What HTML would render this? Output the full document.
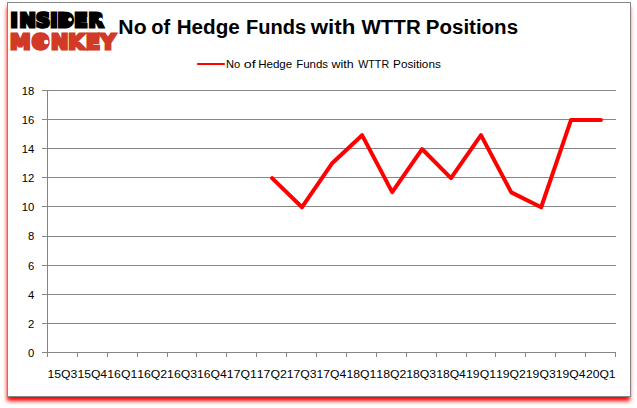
<!DOCTYPE html>
<html lang="en">
<head>
<meta charset="utf-8">
<title>Insider Monkey - No of Hedge Funds with WTTR Positions</title>
<style>
html,body{margin:0;padding:0;background:#fff;}
body{width:637px;height:408px;position:relative;overflow:hidden;font-family:"Liberation Sans",sans-serif;}
#frame{position:absolute;left:7px;top:2px;width:622px;height:393px;border:1px solid #868686;background:#fff;box-shadow:-0.5px 4.5px 4px -0.5px #ff0000;}
svg{position:absolute;left:0;top:0;}
text{font-family:"Liberation Sans",sans-serif;font-kerning:none;white-space:pre;}
.ax{font-size:11.3px;fill:#000;}
.ttl{font-size:19.6px;font-weight:bold;fill:#000;}
.lg{font-family:"DejaVu Sans","Liberation Sans",sans-serif;font-weight:bold;stroke-width:2.8;stroke-linejoin:miter;text-rendering:geometricPrecision;}
</style>
</head>
<body>
<div id="frame"></div>
<svg width="637" height="408" viewBox="0 0 637 408">
<line x1="42.00" y1="352.50" x2="616.00" y2="352.50" stroke="#868686" stroke-width="1"/>
<line x1="42.00" y1="323.50" x2="616.00" y2="323.50" stroke="#868686" stroke-width="1"/>
<line x1="42.00" y1="294.50" x2="616.00" y2="294.50" stroke="#868686" stroke-width="1"/>
<line x1="42.00" y1="265.50" x2="616.00" y2="265.50" stroke="#868686" stroke-width="1"/>
<line x1="42.00" y1="236.50" x2="616.00" y2="236.50" stroke="#868686" stroke-width="1"/>
<line x1="42.00" y1="206.50" x2="616.00" y2="206.50" stroke="#868686" stroke-width="1"/>
<line x1="42.00" y1="177.50" x2="616.00" y2="177.50" stroke="#868686" stroke-width="1"/>
<line x1="42.00" y1="148.50" x2="616.00" y2="148.50" stroke="#868686" stroke-width="1"/>
<line x1="42.00" y1="119.50" x2="616.00" y2="119.50" stroke="#868686" stroke-width="1"/>
<line x1="42.00" y1="90.50" x2="616.00" y2="90.50" stroke="#868686" stroke-width="1"/>
<line x1="47.50" y1="90.50" x2="47.50" y2="352.50" stroke="#868686" stroke-width="1"/>
<line x1="47.50" y1="352.50" x2="47.50" y2="357.00" stroke="#868686" stroke-width="1"/>
<line x1="77.50" y1="352.50" x2="77.50" y2="357.00" stroke="#868686" stroke-width="1"/>
<line x1="107.50" y1="352.50" x2="107.50" y2="357.00" stroke="#868686" stroke-width="1"/>
<line x1="137.50" y1="352.50" x2="137.50" y2="357.00" stroke="#868686" stroke-width="1"/>
<line x1="167.50" y1="352.50" x2="167.50" y2="357.00" stroke="#868686" stroke-width="1"/>
<line x1="196.50" y1="352.50" x2="196.50" y2="357.00" stroke="#868686" stroke-width="1"/>
<line x1="226.50" y1="352.50" x2="226.50" y2="357.00" stroke="#868686" stroke-width="1"/>
<line x1="256.50" y1="352.50" x2="256.50" y2="357.00" stroke="#868686" stroke-width="1"/>
<line x1="286.50" y1="352.50" x2="286.50" y2="357.00" stroke="#868686" stroke-width="1"/>
<line x1="316.50" y1="352.50" x2="316.50" y2="357.00" stroke="#868686" stroke-width="1"/>
<line x1="346.50" y1="352.50" x2="346.50" y2="357.00" stroke="#868686" stroke-width="1"/>
<line x1="376.50" y1="352.50" x2="376.50" y2="357.00" stroke="#868686" stroke-width="1"/>
<line x1="406.50" y1="352.50" x2="406.50" y2="357.00" stroke="#868686" stroke-width="1"/>
<line x1="436.50" y1="352.50" x2="436.50" y2="357.00" stroke="#868686" stroke-width="1"/>
<line x1="466.50" y1="352.50" x2="466.50" y2="357.00" stroke="#868686" stroke-width="1"/>
<line x1="495.50" y1="352.50" x2="495.50" y2="357.00" stroke="#868686" stroke-width="1"/>
<line x1="525.50" y1="352.50" x2="525.50" y2="357.00" stroke="#868686" stroke-width="1"/>
<line x1="555.50" y1="352.50" x2="555.50" y2="357.00" stroke="#868686" stroke-width="1"/>
<line x1="585.50" y1="352.50" x2="585.50" y2="357.00" stroke="#868686" stroke-width="1"/>
<line x1="615.50" y1="352.50" x2="615.50" y2="357.00" stroke="#868686" stroke-width="1"/>
<text x="34.3" y="356.90" text-anchor="end" class="ax">0</text>
<text x="34.3" y="327.79" text-anchor="end" class="ax">2</text>
<text x="34.3" y="298.68" text-anchor="end" class="ax">4</text>
<text x="34.3" y="269.57" text-anchor="end" class="ax">6</text>
<text x="34.3" y="240.46" text-anchor="end" class="ax">8</text>
<text x="34.3" y="211.34" text-anchor="end" class="ax">10</text>
<text x="34.3" y="182.23" text-anchor="end" class="ax">12</text>
<text x="34.3" y="153.12" text-anchor="end" class="ax">14</text>
<text x="34.3" y="124.01" text-anchor="end" class="ax">16</text>
<text x="34.3" y="94.90" text-anchor="end" class="ax">18</text>
<text x="47.52" y="377.6" textLength="29.87" lengthAdjust="spacingAndGlyphs" class="ax">15Q3</text>
<text x="77.42" y="377.6" textLength="29.68" lengthAdjust="spacingAndGlyphs" class="ax">15Q4</text>
<text x="107.30" y="377.6" textLength="29.93" lengthAdjust="spacingAndGlyphs" class="ax">16Q1</text>
<text x="137.20" y="377.6" textLength="29.95" lengthAdjust="spacingAndGlyphs" class="ax">16Q2</text>
<text x="167.10" y="377.6" textLength="29.87" lengthAdjust="spacingAndGlyphs" class="ax">16Q3</text>
<text x="197.00" y="377.6" textLength="29.68" lengthAdjust="spacingAndGlyphs" class="ax">16Q4</text>
<text x="226.88" y="377.6" textLength="29.93" lengthAdjust="spacingAndGlyphs" class="ax">17Q1</text>
<text x="256.78" y="377.6" textLength="29.95" lengthAdjust="spacingAndGlyphs" class="ax">17Q2</text>
<text x="286.68" y="377.6" textLength="29.87" lengthAdjust="spacingAndGlyphs" class="ax">17Q3</text>
<text x="316.58" y="377.6" textLength="29.68" lengthAdjust="spacingAndGlyphs" class="ax">17Q4</text>
<text x="346.46" y="377.6" textLength="29.93" lengthAdjust="spacingAndGlyphs" class="ax">18Q1</text>
<text x="376.36" y="377.6" textLength="29.95" lengthAdjust="spacingAndGlyphs" class="ax">18Q2</text>
<text x="406.25" y="377.6" textLength="29.87" lengthAdjust="spacingAndGlyphs" class="ax">18Q3</text>
<text x="436.15" y="377.6" textLength="29.68" lengthAdjust="spacingAndGlyphs" class="ax">18Q4</text>
<text x="466.04" y="377.6" textLength="29.93" lengthAdjust="spacingAndGlyphs" class="ax">19Q1</text>
<text x="495.94" y="377.6" textLength="29.95" lengthAdjust="spacingAndGlyphs" class="ax">19Q2</text>
<text x="525.83" y="377.6" textLength="29.87" lengthAdjust="spacingAndGlyphs" class="ax">19Q3</text>
<text x="555.73" y="377.6" textLength="29.68" lengthAdjust="spacingAndGlyphs" class="ax">19Q4</text>
<text x="585.94" y="377.6" textLength="29.60" lengthAdjust="spacingAndGlyphs" class="ax">20Q1</text>
<polyline points="272.11,178.13 302.01,207.24 331.90,163.58 362.09,135.17 392.19,192.19 422.08,149.02 450.98,178.13 480.97,135.17 511.27,192.39 541.16,207.24 571.06,119.91 600.95,119.91" fill="none" stroke="#ff0000" stroke-width="4" stroke-linejoin="round" stroke-linecap="round"/>
<line x1="198" y1="64" x2="224" y2="64" stroke="#ff0000" stroke-width="2.1" stroke-linecap="round"/>
<text y="67.8" class="ax"><tspan x="225.89" textLength="14.18" lengthAdjust="spacingAndGlyphs">No</tspan> <tspan x="243.80" textLength="11.88" lengthAdjust="spacingAndGlyphs">of</tspan> <tspan x="258.15" textLength="34.06" lengthAdjust="spacingAndGlyphs">Hedge</tspan> <tspan x="296.26" textLength="31.85" lengthAdjust="spacingAndGlyphs">Funds</tspan> <tspan x="331.52" textLength="22.09" lengthAdjust="spacingAndGlyphs">with</tspan> <tspan x="358.25" textLength="30.84" lengthAdjust="spacingAndGlyphs">WTTR</tspan> <tspan x="393.14" textLength="47.69" lengthAdjust="spacingAndGlyphs">Positions</tspan></text>
<text y="34.4" class="ttl"><tspan x="118.38" textLength="28.25" lengthAdjust="spacingAndGlyphs">No</tspan> <tspan x="151.32" textLength="18.94" lengthAdjust="spacingAndGlyphs">of</tspan> <tspan x="176.72" textLength="63.09" lengthAdjust="spacingAndGlyphs">Hedge</tspan> <tspan x="245.96" textLength="60.16" lengthAdjust="spacingAndGlyphs">Funds</tspan> <tspan x="310.77" textLength="44.62" lengthAdjust="spacingAndGlyphs">with</tspan> <tspan x="361.48" textLength="59.24" lengthAdjust="spacingAndGlyphs">WTTR</tspan> <tspan x="425.83" textLength="92.21" lengthAdjust="spacingAndGlyphs">Positions</tspan></text>
<rect x="62.5" y="14" width="7" height="11" fill="#000000"/>
<rect x="93" y="13.5" width="8" height="7" fill="#000000"/>
<circle cx="40.55" cy="41.5" r="6" fill="#d03a26"/>
<text x="10.48 19.40 36.00 50.13 57.48 74.17 88.55" y="27" class="lg" font-size="19.48" fill="#000000" stroke="#000000">INSIDER</text>
<text x="9.95 31.75 50.98 68.31 85.93 100.55" y="49" class="lg" font-size="20.71" fill="#d03a26" stroke="#d03a26">MONKEY</text>
<circle cx="70.1" cy="19.5" r="1.9" fill="#ffffff"/>
<circle cx="100.6" cy="19.2" r="1.8" fill="#ffffff"/>
<circle cx="46.2" cy="42.0" r="2.3" fill="#ffffff"/>
</svg>
</body>
</html>
